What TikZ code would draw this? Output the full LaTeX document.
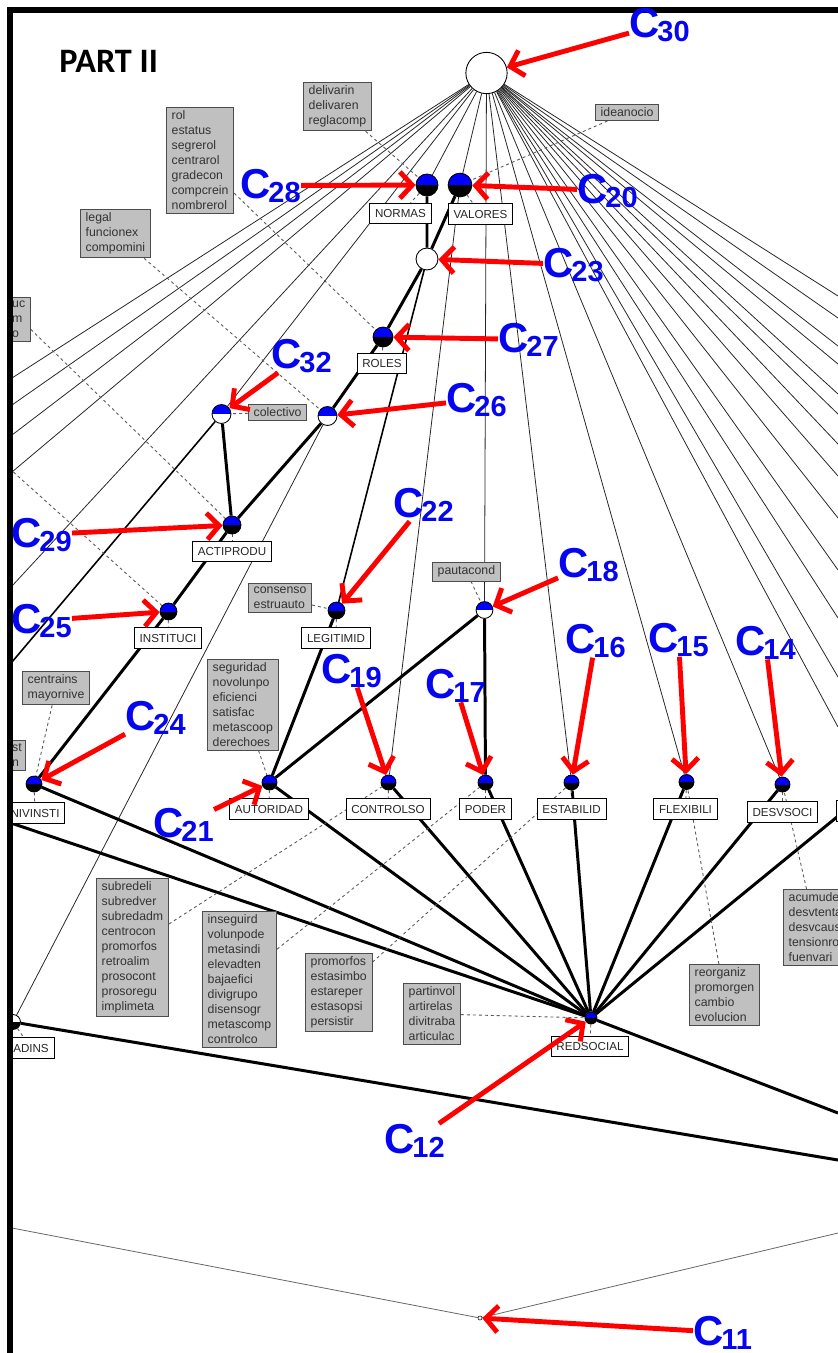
\documentclass[tikz,border=0pt]{standalone}
\usepackage{fontspec}
\setmainfont{Liberation Sans}
\newfontfamily\partfont{Carlito}
\usepackage{tikz}
\usetikzlibrary{arrows.meta}
\pgfdeclarelayer{bg}
\pgfsetlayers{bg,main}
\definecolor{cblue}{RGB}{5,5,240}
\definecolor{boxgray}{RGB}{192,192,192}
\newcommand{\cnum}[1]{\fontsize{23.8}{24}\selectfont C\kern-1.2pt\raisebox{-2.3pt}{\fontsize{16.5}{17}\selectfont #1}}

\tikzset{
  conc/.style={circle, draw=black, line width=0.5pt, inner sep=0pt, minimum size=#1},
  bb/.style={conc=#1, fill=black, path picture={\fill[blue] (path picture bounding box.north west) rectangle (path picture bounding box.east);}},
  bw/.style={conc=#1, fill=white, path picture={\fill[blue] (path picture bounding box.north west) rectangle (path picture bounding box.east);}},
  wb/.style={conc=#1, fill=white, path picture={\fill[black] (path picture bounding box.west) rectangle (path picture bounding box.south east);}},
  lab/.style={draw=black, fill=white, line width=0.5pt, text=black!85, font=\fontsize{6.6}{7}\selectfont, inner xsep=3pt, inner ysep=3.4pt, text height=4.8pt, text depth=0.2pt},
  gbox/.style={draw=black!70, fill=boxgray, line width=0.5pt, text=black!80, font=\fontsize{7}{8.5}\selectfont, align=left, inner xsep=3pt, inner ysep=2pt, anchor=north west},
  fan/.style={draw=black!85, line width=0.45pt},
  mid/.style={draw=black, line width=0.9pt},
  latt/.style={draw=black, line width=1.7pt},
  dsh/.style={draw=black!65, line width=0.5pt, dash pattern=on 1.7pt off 1.7pt},
  redarr/.style={draw=red, line width=2.8pt, -{Straight Barb[length=7pt,width=15pt]}},
  clabel/.style={text=cblue, font=\bfseries, inner sep=0pt, anchor=base west}
}

\begin{document}
\begin{tikzpicture}[x=0.02cm, y=-0.02cm]
\useasboundingbox (0,0) rectangle (838,1353);

\begin{scope}
\clip (10,10) rectangle (838,1353);
\node[conc=23.5pt, fill=white] (c30) at (486.5,73) {};
\node[bb=12.5pt] (normas) at (427,185) {};
\node[bb=13.5pt] (valores) at (460,185) {};
\node[conc=12.5pt, fill=white] (c23) at (427,259) {};
\node[bb=11.3pt] (roles) at (383,337) {};
\node[bw=10.8pt] (c32) at (221.5,414) {};
\node[bw=10.8pt] (c26) at (327.5,416) {};
\node[bb=10.2pt] (actiprodu) at (232,525) {};
\node[bb=9.6pt] (instituci) at (168.5,611.5) {};
\node[bb=9.6pt] (legitimid) at (336.5,610.5) {};
\node[bw=9.6pt] (pauta) at (484.5,610) {};
\node[bb=9pt] (nivinsti) at (34,784) {};
\node[bb=8.5pt] (autoridad) at (269.5,782.5) {};
\node[bb=8.5pt] (controlso) at (388.5,782.5) {};
\node[bb=8.5pt] (poder) at (485.5,782.5) {};
\node[bb=8.5pt] (estabilid) at (571.5,782.5) {};
\node[bb=8.5pt] (flexibili) at (686.5,782) {};
\node[bb=8.5pt] (desvsoci) at (782.5,784.5) {};
\node[bb=8.5pt] (offright) at (870,790) {};
\node[bb=6.8pt] (redsocial) at (591,1018) {};
\node[wb=8.5pt] (adins) at (13,1022) {};
\node[conc=2.3pt, fill=white, line width=0.3pt] (c11) at (480,1318) {};

\node[lab] (lnormas) at (400.5,213.5) {NORMAS};
\node[lab] (lvalores) at (480.5,214) {VALORES};
\node[lab] (lroles) at (382,363.5) {ROLES};
\node[lab] (lactiprodu) at (232,551.5) {ACTIPRODU};
\node[lab] (linstituci) at (168,638) {INSTITUCI};
\node[lab] (llegitimid) at (336,638) {LEGITIMID};
\node[lab] (lnivinsti) at (35,813) {NIVINSTI};
\node[lab] (lautoridad) at (269,809) {AUTORIDAD};
\node[lab] (lcontrolso) at (388,809) {CONTROLSO};
\node[lab] (lpoder) at (485.5,809) {PODER};
\node[lab] (lestabilid) at (571.5,809) {ESTABILID};
\node[lab] (lflexibili) at (685.5,809) {FLEXIBILI};
\node[lab] (ldesvsoci) at (782.5,812) {DESVSOCI};
\node[lab] (lredsocial) at (590,1046.5) {REDSOCIAL};
\node[lab] (ladins) at (31,1048) {ADINS};
\node[lab, anchor=west, minimum width=40pt] (loffright) at (836,811) {};

\node[gbox] (delivbox) at (303,82) {delivarin\\delivaren\\reglacomp};
\node[gbox] (ideabox) at (595,104) {ideanocio};
\node[gbox] (rolbox) at (166,107) {rol\\estatus\\segrerol\\centrarol\\gradecon\\compcrein\\nombrerol};
\node[gbox] (legalbox) at (80,209) {legal\\funcionex\\compomini};
\node[gbox, inner xsep=1pt, text width=9.3pt] (ucbox) at (10,297) {uc\\m\\o};
\node[gbox] (colbox) at (248,404) {colectivo};
\node[gbox] (consbox) at (248,583) {consenso\\estruauto};
\node[gbox] (pautabox) at (432,562) {pautacond};
\node[gbox] (centrbox) at (22,671) {centrains\\mayornive};
\node[gbox, inner xsep=1pt, text width=6.5pt] (stbox) at (10,740) {st\\n};
\node[gbox] (segbox) at (207,659) {seguridad\\novolunpo\\eficienci\\satisfac\\metascoop\\derechoes};
\node[gbox] (subbox) at (96,878) {subredeli\\subredver\\subredadm\\centrocon\\promorfos\\retroalim\\prosocont\\prosoregu\\implimeta};
\node[gbox] (insbox) at (202,911) {inseguird\\volunpode\\metasindi\\elevadten\\bajaefici\\divigrupo\\disensogr\\metascomp\\controlco};
\node[gbox] (promobox) at (305,953) {promorfos\\estasimbo\\estareper\\estasopsi\\persistir};
\node[gbox] (partbox) at (403,983) {partinvol\\artirelas\\divitraba\\articulac};
\node[gbox] (reorgbox) at (689,964) {reorganiz\\promorgen\\cambio\\evolucion};
\node[gbox] (acumbox) at (783,889) {acumude\\desvtenta\\desvcaus\\tensionro\\fuenvari};
\end{scope}

\foreach \y [count=\i] in {378,405,435,472,586}
  \coordinate (L\i) at (12,\y);
\foreach \y [count=\i] in {296,318,346,364,394,414,444,476,518,570,618,677,727}
  \coordinate (R\i) at (838,\y);
\coordinate (offleft) at (8,822);
\coordinate (offc32) at (12,662);
\coordinate (offdash) at (0,460);
\coordinate (lowr1) at (838,1113);
\coordinate (lowr2) at (838,1160);
\coordinate (c11l) at (12,1228);
\coordinate (c11r) at (838,1233);

\begin{pgfonlayer}{bg}
\clip (10,10) rectangle (838,1353);
\foreach \i in {1,...,5}
  \draw[fan] (c30) -- (L\i);
\foreach \i in {1,...,13}
  \draw[fan] (c30) -- (R\i);
\foreach \n in {normas,valores,c32,pauta,estabilid,flexibili,desvsoci}
  \draw[fan] (c30) -- (\n);
\draw[fan] (valores) -- (controlso);
\draw[fan] (c26) -- (adins);
\draw[mid] (c23) -- (legitimid);
\draw[mid] (c32) -- (offc32);
\draw[latt] (normas) -- (c23) (valores) -- (c23) (c23) -- (roles) -- (c26) -- (actiprodu);
\draw[latt] (c32) -- (actiprodu) -- (instituci) -- (nivinsti);
\draw[latt] (legitimid) -- (autoridad) -- (pauta) -- (poder);
\foreach \n in {nivinsti,autoridad,controlso,poder,estabilid,flexibili,desvsoci,offright,offleft}
  \draw[latt] (\n) -- (redsocial);
\draw[latt] (redsocial) -- (lowr1);
\draw[latt] (adins) -- (lowr2);
\draw[fan, draw=black!60] (c11l) -- (c11) -- (c11r);
\foreach \b/\n in {delivbox/normas, ideabox/valores, rolbox/roles, legalbox/c26, ucbox/actiprodu, offdash/instituci, colbox/c32, consbox/legitimid, pautabox/pauta, centrbox/nivinsti, segbox/autoridad, subbox/controlso, insbox/poder, promobox/estabilid, partbox/redsocial, reorgbox/flexibili, acumbox/desvsoci}
  \draw[dsh] (\b) -- (\n);
\foreach \n in {normas,valores,roles,actiprodu,instituci,legitimid,nivinsti,autoridad,controlso,poder,estabilid,flexibili,desvsoci,redsocial,adins}
  \draw[dsh] (\n) -- (l\n);
\end{pgfonlayer}

\draw[line width=3pt] (10,1353) -- (10,10) -- (838,10);
\node[font=\partfont\bfseries\fontsize{19.5}{20}\selectfont, inner sep=0pt, anchor=base west] (part) at (59,72) {PART II};

\node[clabel] (l30) at (629,37) {\cnum{30}};
\node[clabel] (l28) at (240,198) {\cnum{28}};
\node[clabel] (l20) at (577,203) {\cnum{20}};
\node[clabel] (l23) at (543,277) {\cnum{23}};
\node[clabel] (l27) at (498,352) {\cnum{27}};
\node[clabel] (l32) at (271,368) {\cnum{32}};
\node[clabel] (l26) at (446,412) {\cnum{26}};
\node[clabel] (l29) at (11,547) {\cnum{29}};
\node[clabel] (l25) at (11,633) {\cnum{25}};
\node[clabel] (l22) at (393,517) {\cnum{22}};
\node[clabel] (l18) at (558,577) {\cnum{18}};
\node[clabel] (l16) at (565,653) {\cnum{16}};
\node[clabel] (l15) at (648,652) {\cnum{15}};
\node[clabel] (l14) at (735,655) {\cnum{14}};
\node[clabel] (l19) at (321,683) {\cnum{19}};
\node[clabel] (l17) at (425,698) {\cnum{17}};
\node[clabel] (l24) at (125,730) {\cnum{24}};
\node[clabel] (l21) at (153,837) {\cnum{21}};
\node[clabel] (l12) at (384,1153) {\cnum{12}};
\node[clabel] (l11) at (693,1345) {\cnum{11}};

\foreach \a/\n in {30/c30, 28/normas, 20/valores, 23/c23, 27/roles, 32/c32, 26/c26, 29/actiprodu, 25/instituci, 22/legitimid, 18/pauta, 16/estabilid, 15/flexibili, 14/desvsoci, 19/controlso, 17/poder, 24/nivinsti, 21/autoridad, 12/redsocial, 11/c11}
  \draw[redarr] (l\a) -- (\n);
\end{tikzpicture}
\end{document}
